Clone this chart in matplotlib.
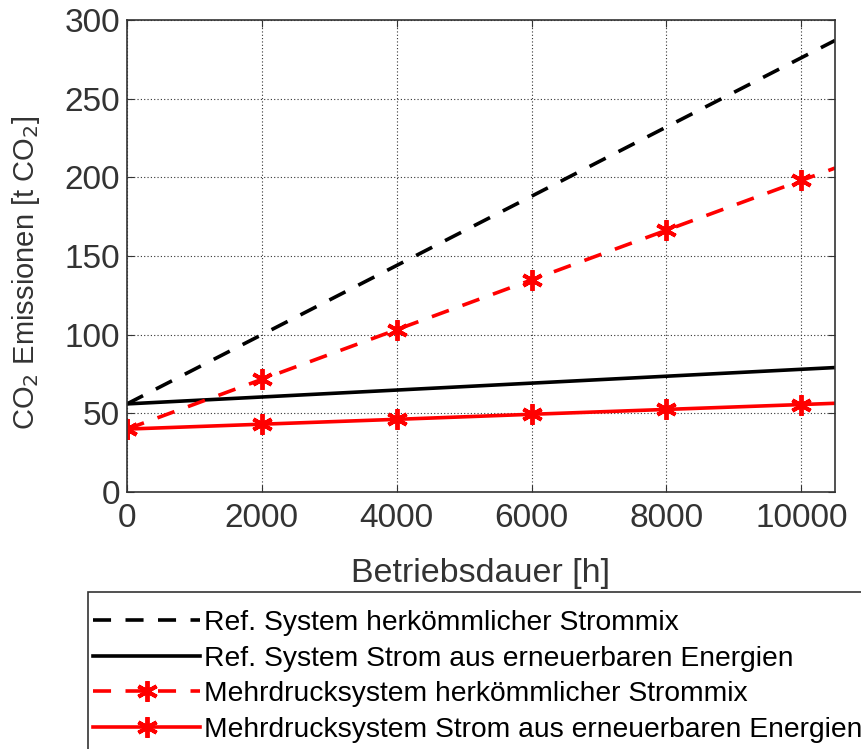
import numpy as np
import matplotlib.pyplot as plt
from matplotlib.patches import Rectangle

plt.rcParams['font.family'] = ['Liberation Sans', 'DejaVu Sans']

# Betriebsdauer in h (letzter Wert = Achsenende)
stunden = [0, 2000, 4000, 6000, 8000, 10000, 10500]

ref_mix = [56, 100, 144, 188, 232, 276, 287]
ref_ee = [56, 60.4, 64.8, 69.2, 73.6, 78, 79.1]
mehr_mix = [40, 71.6, 103.2, 134.8, 166.4, 198, 205.9]
mehr_ee = [40, 43.1, 46.2, 49.4, 52.5, 55.6, 56.4]

labels = ['Ref. System herkömmlicher Strommix',
          'Ref. System Strom aus erneuerbaren Energien',
          'Mehrdrucksystem herkömmlicher Strommix',
          'Mehrdrucksystem Strom aus erneuerbaren Energien']

fig = plt.figure(figsize=(8.62, 7.49), dpi=100)
ax = fig.add_axes([0.1473, 0.3431, 0.8214, 0.6302])

stern = (6, 2, 0)
lw = 2.6
ax.plot(stunden, ref_mix, color='black', ls=(0, (5, 4)), lw=lw, label=labels[0])
ax.plot(stunden, ref_ee, color='black', ls='-', lw=lw, label=labels[1])
ax.plot(stunden, mehr_mix, color='red', ls=(0, (5, 4)), lw=lw, marker=stern,
        ms=15, mew=2.8, markevery=list(range(6)), label=labels[2])
ax.plot(stunden, mehr_ee, color='red', ls='-', lw=lw, marker=stern,
        ms=15, mew=2.8, markevery=list(range(6)), label=labels[3])

ax.set_xlim(0, 10500)
ax.set_ylim(0, 300)
ax.set_xticks([0, 2000, 4000, 6000, 8000, 10000])
ax.set_yticks([0, 50, 100, 150, 200, 250, 300])
ax.grid(True, ls=(0, (1, 2)), lw=0.8, color='#333333')
ax.tick_params(direction='in', labelsize=24, length=5, color='#333333',
               labelcolor='#333333', top=True, right=True, pad=5)
ax.tick_params(axis='x', pad=8)
for s in ax.spines.values():
    s.set_color('#333333')
    s.set_linewidth(1.2)

ax.set_xlabel('Betriebsdauer [h]', fontsize=24.5, color='#333333', labelpad=17)
ax.set_ylabel('CO$_2$ Emissionen [t CO$_2$]', fontsize=21, color='#333333', labelpad=4)
ax.yaxis.set_label_coords(-0.12, 0.465)

# Legendenrahmen reicht ueber den Bildrand hinaus
fig.patches.append(Rectangle((88 / 862, -0.1), 1.0, 1 - 592 / 749 + 0.1,
                             transform=fig.transFigure, fill=False,
                             edgecolor='#333333', lw=1.2))
leg = fig.legend(loc='upper left', bbox_to_anchor=(93 / 862, 1 - 610 / 749),
                 fontsize=20.3, handlelength=3.8, handletextpad=0.15,
                 labelspacing=0.34, borderaxespad=0, borderpad=0,
                 frameon=False)

fig.savefig('out.png', dpi=100)
